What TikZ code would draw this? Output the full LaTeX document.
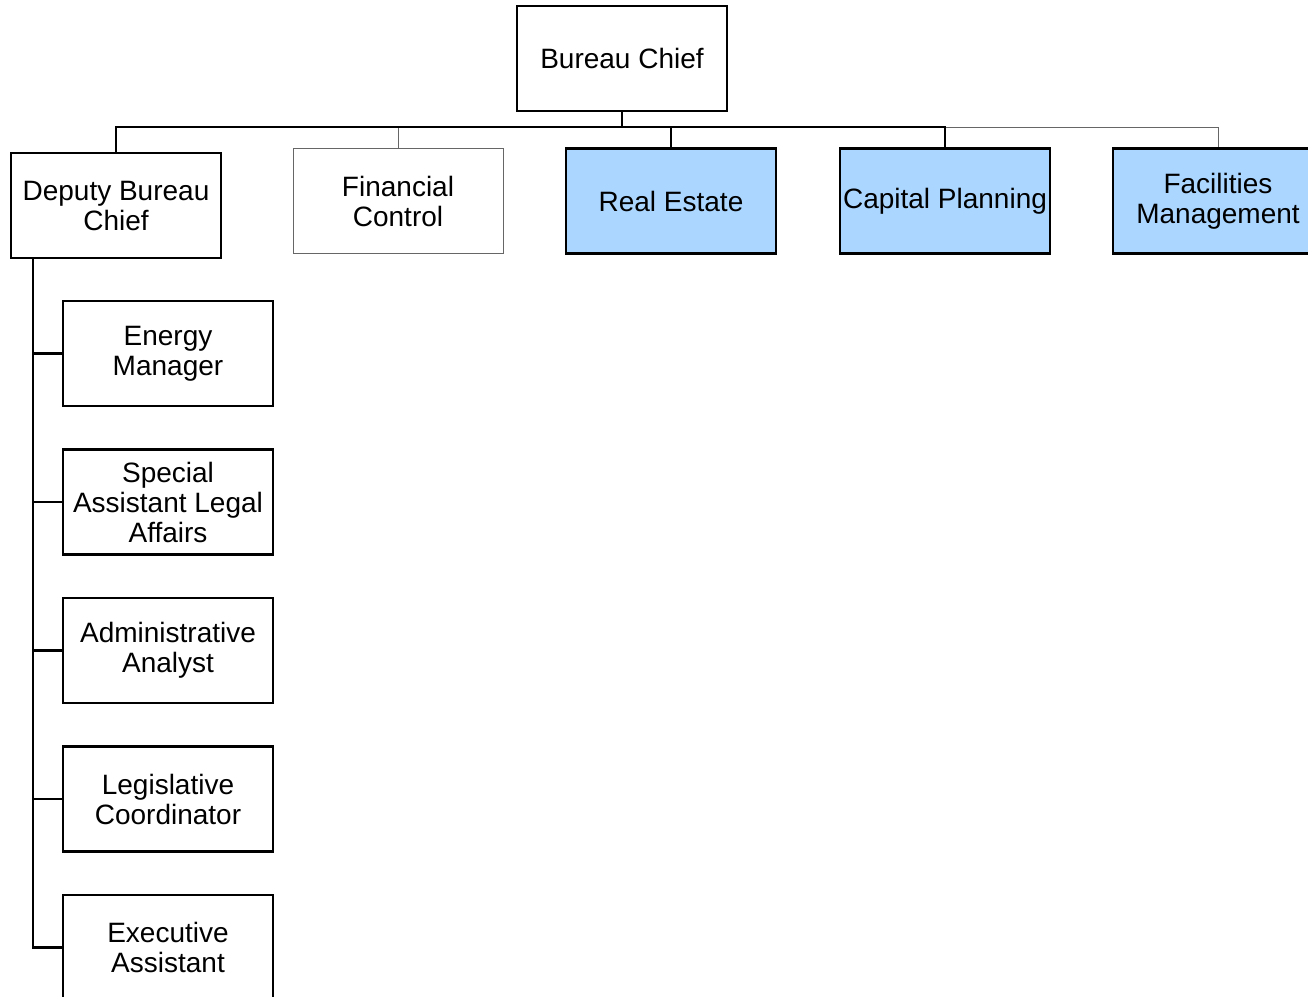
\documentclass[tikz,border=0pt]{standalone}
\usepackage{fontspec}
\setmainfont{Liberation Sans}
\definecolor{paleblue}{RGB}{171,214,255}

\begin{document}
\begin{tikzpicture}[x=0.5pt,y=-0.5pt,
	unit/.style={draw,line width=1.3pt,minimum width=105pt,minimum height=52.5pt,
		inner sep=0pt,align=center,font=\fontsize{14}{15}\selectfont},
	thinunit/.style={unit,draw=black!60,line width=0.5pt},
	blueunit/.style={unit,fill=paleblue},
	link/.style={line width=1.3pt},
	thinlink/.style={line width=0.5pt,draw=black!60}]
	\useasboundingbox (0,0) rectangle (1308,997);
	\coordinate (bus) at (0,127);
	\coordinate (spine) at (33,0);

	\node[unit] (chief) at (622,58.5) {Bureau Chief};
	\node[unit] (deputy) at (116,205.5) {Deputy Bureau\\Chief};
	\node[thinunit] (finance) at (398,201) {Financial\\Control};
	\node[blueunit] (estate) at (671,201) {Real Estate};
	\node[blueunit] (capital) at (945,201) {Capital Planning};
	\node[blueunit] (facilities) at (1218,201) {Facilities\\Management};

	\draw[thinlink] (finance.north) -- (finance.north |- bus);
	\draw[thinlink] (capital.north |- bus) -| (facilities.north);
	\draw[link] (chief.south) -- (chief.south |- bus);
	\draw[link] (deputy.north) -- (deputy.north |- bus) -| (capital.north);
	\draw[link] (estate.north) -- (estate.north |- bus);

	% staff under the deputy
	\foreach \name/\label [count=\i] in {energy/{Energy\\Manager},
			legal/{Special\\Assistant Legal\\Affairs},
			analyst/{Administrative\\Analyst},
			legis/{Legislative\\Coordinator},
			exec/{Executive\\Assistant}} {
		\node[unit] (\name) at (168,{353.5+148.5*(\i-1)}) {\label};
		\draw[link] (deputy.south -| spine) |- (\name.west);
	}
\end{tikzpicture}
\end{document}
